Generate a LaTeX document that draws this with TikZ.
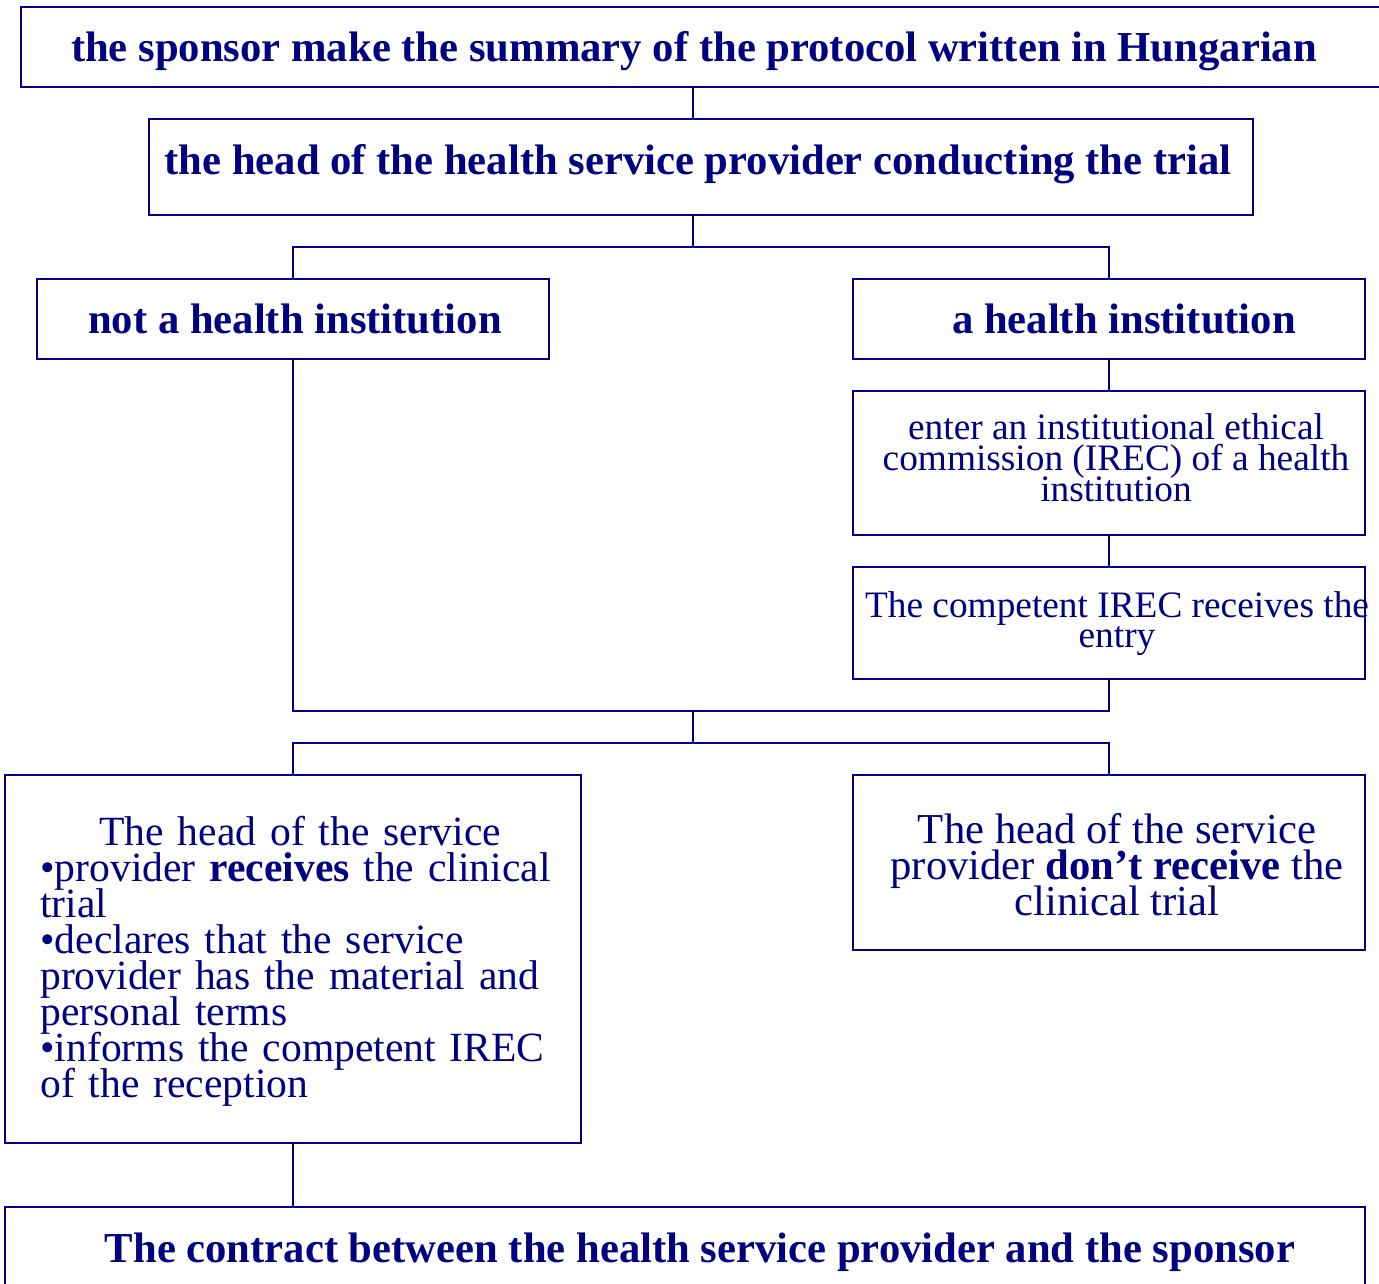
\documentclass[tikz,border=0pt]{standalone}
\usepackage{fontspec}
\setmainfont{Liberation Serif}
\definecolor{navy}{RGB}{0,0,128}
\newcommand{\tightlines}{\lineskiplimit=-100pt\relax}
\begin{document}
\begin{tikzpicture}[x=0.75pt,y=-0.75pt,
  box/.style={draw=navy, line width=1.6pt, inner sep=0pt},
  conn/.style={draw=navy, line width=1.4pt},
  bt/.style={text=navy, font=\fontsize{32}{36}\selectfont\bfseries, inner sep=0pt, anchor=base},
  rt/.style={text=navy, font=\fontsize{28}{23.25}\selectfont\tightlines, inner sep=0pt, align=center},
  lt/.style={text=navy, font=\fontsize{31.2}{27}\selectfont\tightlines, inner sep=0pt}]
\useasboundingbox (0,0) rectangle (1379,1284);
\clip (0,0) rectangle (1379,1284);
% boxes
\node[box, minimum width=1034.25pt, minimum height=60pt] (n1) at (710.5,47) {};
\node[box, minimum width=828pt, minimum height=72pt] (n2) at (701,167) {};
\node[box, minimum width=384pt, minimum height=60pt] (n3) at (293,319) {};
\node[box, minimum width=384pt, minimum height=60pt] (n4) at (1109,319) {};
\node[box, minimum width=384pt, minimum height=108pt] (n5) at (1109,463) {};
\node[box, minimum width=384pt, minimum height=84pt] (n6) at (1109,623) {};
\node[box, minimum width=432pt, minimum height=276pt] (n7) at (293,959) {};
\node[box, minimum width=384pt, minimum height=131.25pt] (n8) at (1109,862.5) {};
\node[box, minimum width=1020pt, minimum height=69.75pt] (n9) at (685,1253.5) {};
% texts
\node[bt] (t1) at (694,62) {the sponsor make the summary of the protocol written in Hungarian};
\node[bt] (t2) at (698,175) {the head of the health service provider conducting the trial};
\node[bt] (t3) at (295,333) {not a health institution};
\node[bt] (t4) at (1124,333) {a health institution};
\node[rt] (t5) at (1116,458) {enter an institutional ethical\\commission (IREC) of a health\\institution};
\node[rt, font=\fontsize{28}{22.5}\selectfont\tightlines] (t6) at (1117,623.5) {The competent IREC receives the\\entry};
\node[lt, text width=390pt, align=left, anchor=north west] (t7) at (40,816) {\centerline{The head of the service}\par\noindent\textbullet provider \textbf{receives} the clinical\\trial\\\textbullet declares that the service\\provider has the material and\\personal terms\\\textbullet informs the competent IREC\\of the reception};
\node[lt, align=center, font=\fontsize{32}{27}\selectfont\tightlines] (t8) at (1117,864.5) {The head of the service\\provider \textbf{don’t receive} the\\clinical trial};
\node[bt] (t9) at (700,1262) {The contract between the health service provider and the sponsor};
% connectors
\coordinate (trunk) at (693,0);
\coordinate (split1) at (693,247);
\coordinate (join1) at (693,711);
\coordinate (split2) at (693,743);
\draw[conn] (n1.south -| trunk) -- (n2.north -| trunk);
\draw[conn] (n2.south -| trunk) -- (split1);
\draw[conn] (n3.north) |- (split1) -| (n4.north);
\draw[conn] (n4.south) -- (n5.north);
\draw[conn] (n5.south) -- (n6.north);
\draw[conn] (n3.south) |- (join1) -| (n6.south);
\draw[conn] (join1) -- (split2);
\draw[conn] (n7.north) |- (split2) -| (n8.north);
\draw[conn] (n7.south) -- (n9.north -| n7.south);
\end{tikzpicture}
\end{document}
